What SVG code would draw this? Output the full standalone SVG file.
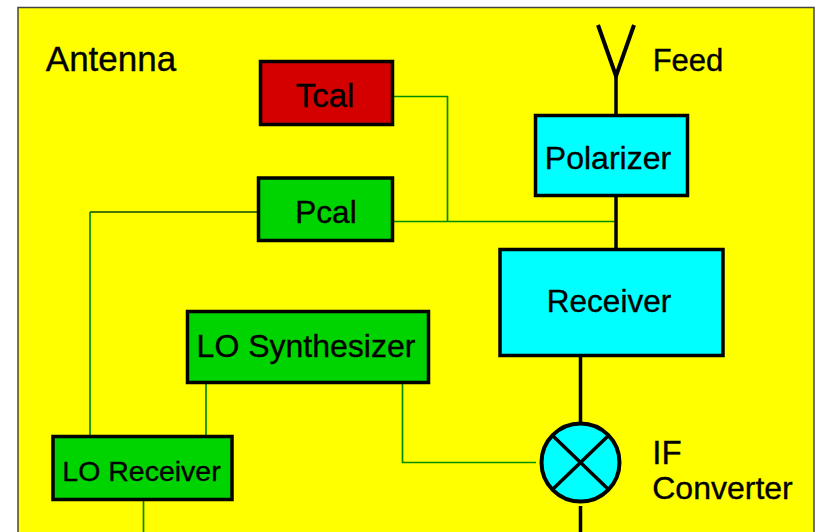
<svg xmlns="http://www.w3.org/2000/svg" width="818" height="532" viewBox="0 0 818 532">
<style>
text{font-family:"Liberation Sans",Arial,sans-serif;fill:#000;stroke:#000;stroke-width:.35;text-anchor:middle}
.box{stroke:#000;stroke-width:3.5}
.g{fill:#00d400}.c{fill:#00ffff}.r{fill:#d40000}
.thin{fill:none;stroke:#008c00;stroke-width:1.7}
.dark{fill:none;stroke:#0a4a0a;stroke-width:1.5}
.thick{fill:none;stroke:#000;stroke-width:3.5}
</style>
<rect x="18" y="7.500" width="796" height="540" fill="#ffff00" stroke="#444" stroke-width="1.500"/>
<g id="connectors">
<path class="thin" d="M393 96.500H447.500V221M393 221.500H614"/>
<path class="dark" d="M259 212H90"/>
<path class="thin" d="M90 212V436"/>
<path class="thin" d="M206 382V436"/>
<path class="thin" d="M402.500 382V462.500H536"/>
<path class="thin" d="M143.500 499V532"/>
<path class="thick" d="M616 76V114M616 195V248M580.500 356V422M580.500 506V532"/>
<path class="thick" style="stroke-width:4" d="M598 25L616 76L634 25"/>
</g>
<g id="antenna-label"><text x="111" y="71" font-size="35">Antenna</text></g>
<g id="feed-label"><text x="688" y="71" font-size="31">Feed</text></g>
<g id="tcal"><rect class="box r" x="260.500" y="61.500" width="132" height="63"/><text x="325" y="107" font-size="33">Tcal</text></g>
<g id="pcal"><rect class="box g" x="258.500" y="178" width="134" height="62.500"/><text x="326" y="223" font-size="31.500">Pcal</text></g>
<g id="polarizer"><rect class="box c" x="535.500" y="115.500" width="152" height="80"/><text x="608" y="169" font-size="32">Polarizer</text></g>
<g id="receiver"><rect class="box c" x="500" y="249.500" width="223" height="106"/><text x="609" y="312" font-size="31.500">Receiver</text></g>
<g id="lo-synthesizer"><rect class="box g" x="187.500" y="311.500" width="241" height="71"/><text x="306" y="357" font-size="32">LO Synthesizer</text></g>
<g id="lo-receiver"><rect class="box g" x="53" y="436.500" width="179" height="63"/><text x="141.500" y="481" font-size="28.500">LO Receiver</text></g>
<g id="if-converter"><circle cx="580.500" cy="462.500" r="39" fill="#00ffff" stroke="#000" stroke-width="4"/><path class="thick" d="M553 436L608 489M608 436L553 489"/><text x="667" y="464" font-size="33">IF</text><text x="722.500" y="499" font-size="32">Converter</text></g>
</svg>
